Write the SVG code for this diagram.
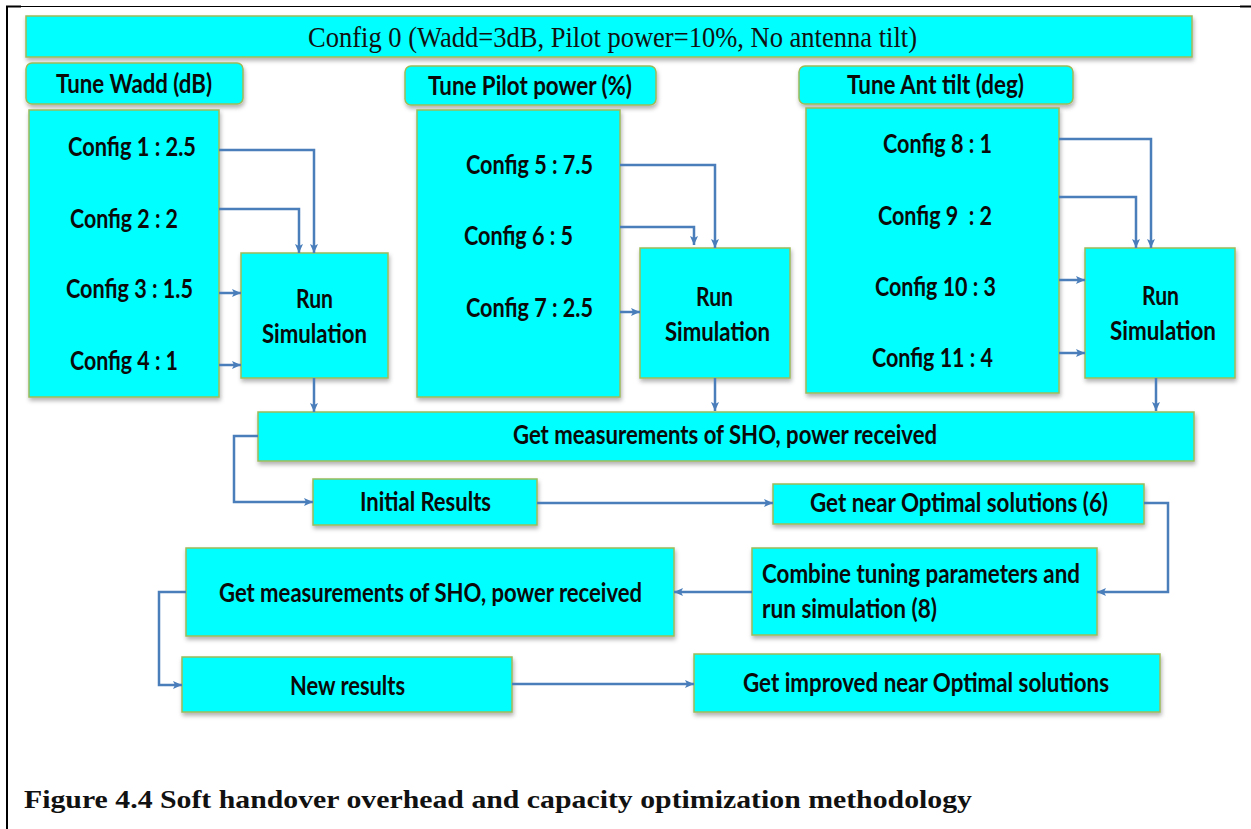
<svg xmlns="http://www.w3.org/2000/svg" width="1251" height="829" viewBox="0 0 1251 829">
  <defs>
    <filter id="shadow" x="-5%" y="-10%" width="110%" height="130%">
      <feDropShadow dx="1" dy="3" stdDeviation="2" flood-color="#000" flood-opacity="0.3"/>
    </filter>
    <marker id="arrow" markerUnits="userSpaceOnUse" markerWidth="10" markerHeight="10" refX="9" refY="5" orient="auto">
      <path d="M0,1 L9,5 L0,9 L2,5 Z" fill="#4a7ebb"/>
    </marker>
  </defs>
  <style>
    .box { fill: #00ffff; stroke: #9bbb59; stroke-width: 1.5; filter: url(#shadow); }
    .lbl { font-family: Lato, "Open Sans", "Liberation Sans", sans-serif; font-weight: bold; font-size: 27px; fill: #0a0a0a; white-space: pre; }
    .title { font-family: "Liberation Serif", "DejaVu Serif", serif; font-size: 30px; fill: #111; }
    .caption { font-family: "Liberation Serif", "DejaVu Serif", serif; font-weight: bold; font-size: 25px; fill: #111; }
    .conn { fill: none; stroke: #4a7ebb; stroke-width: 2.5; }
    .arr { marker-end: url(#arrow); }
  </style>
  <rect width="1251" height="829" fill="#fff"/>

  <!-- page frame -->
  <g id="frame" stroke="#000" fill="none">
    <line x1="7" y1="6" x2="7" y2="829" stroke-width="2"/>
    <line x1="6" y1="6.5" x2="21" y2="6.5" stroke-width="2"/>
    <line x1="21" y1="6.5" x2="1240" y2="6.5" stroke-width="1"/>
    <line x1="1240" y1="6.5" x2="1251" y2="6.5" stroke-width="2"/>
  </g>

  <g id="config0">
    <rect class="box" x="26" y="16" width="1166" height="41"/>
    <text class="title" x="308" y="47" textLength="609" lengthAdjust="spacingAndGlyphs">Config 0 (Wadd=3dB, Pilot power=10%, No antenna tilt)</text>
  </g>

  <!-- Wadd branch -->
  <g id="tune-wadd">
    <rect class="box" x="26" y="63" width="217" height="41" rx="6"/>
    <text class="lbl" x="56" y="93" textLength="156" lengthAdjust="spacingAndGlyphs">Tune Wadd (dB)</text>
  </g>
  <g id="wadd-configs">
    <rect class="box" x="29" y="110" width="190" height="287"/>
    <text class="lbl" x="68" y="156" textLength="128" lengthAdjust="spacingAndGlyphs">Config 1 : 2.5</text>
    <text class="lbl" x="70" y="228" textLength="108" lengthAdjust="spacingAndGlyphs">Config 2 : 2</text>
    <text class="lbl" x="66" y="298" textLength="127" lengthAdjust="spacingAndGlyphs">Config 3 : 1.5</text>
    <text class="lbl" x="70" y="370" textLength="108" lengthAdjust="spacingAndGlyphs">Config 4 : 1</text>
  </g>
  <g id="run-sim-1">
    <rect class="box" x="241" y="253" width="147" height="125"/>
    <text class="lbl" x="296" y="308" textLength="37" lengthAdjust="spacingAndGlyphs">Run</text>
    <text class="lbl" x="262" y="343" textLength="105" lengthAdjust="spacingAndGlyphs">Simulation</text>
  </g>

  <!-- Pilot power branch -->
  <g id="tune-pilot">
    <rect class="box" x="405" y="66" width="251" height="39" rx="6"/>
    <text class="lbl" x="428" y="95" textLength="204" lengthAdjust="spacingAndGlyphs">Tune Pilot power (%)</text>
  </g>
  <g id="pilot-configs">
    <rect class="box" x="417" y="110" width="203" height="287"/>
    <text class="lbl" x="466" y="174" textLength="127" lengthAdjust="spacingAndGlyphs">Config 5 : 7.5</text>
    <text class="lbl" x="464" y="245" textLength="109" lengthAdjust="spacingAndGlyphs">Config 6 : 5</text>
    <text class="lbl" x="466" y="317" textLength="127" lengthAdjust="spacingAndGlyphs">Config 7 : 2.5</text>
  </g>
  <g id="run-sim-2">
    <rect class="box" x="640" y="248" width="150" height="130"/>
    <text class="lbl" x="696" y="306" textLength="37" lengthAdjust="spacingAndGlyphs">Run</text>
    <text class="lbl" x="665" y="341" textLength="105" lengthAdjust="spacingAndGlyphs">Simulation</text>
  </g>

  <!-- Antenna tilt branch -->
  <g id="tune-tilt">
    <rect class="box" x="799" y="66" width="274" height="38" rx="6"/>
    <text class="lbl" x="847" y="94" textLength="177" lengthAdjust="spacingAndGlyphs">Tune Ant tilt (deg)</text>
  </g>
  <g id="tilt-configs">
    <rect class="box" x="806" y="108" width="253" height="285"/>
    <text class="lbl" x="883" y="153" textLength="109" lengthAdjust="spacingAndGlyphs">Config 8 : 1</text>
    <text class="lbl" x="878" y="225" textLength="114" lengthAdjust="spacingAndGlyphs">Config 9  : 2</text>
    <text class="lbl" x="875" y="296" textLength="121" lengthAdjust="spacingAndGlyphs">Config 10 : 3</text>
    <text class="lbl" x="872" y="367" textLength="121" lengthAdjust="spacingAndGlyphs">Config 11 : 4</text>
  </g>
  <g id="run-sim-3">
    <rect class="box" x="1085" y="248" width="150" height="130"/>
    <text class="lbl" x="1142" y="305" textLength="37" lengthAdjust="spacingAndGlyphs">Run</text>
    <text class="lbl" x="1110" y="340" textLength="106" lengthAdjust="spacingAndGlyphs">Simulation</text>
  </g>

  <!-- result stages -->
  <g id="measure-1">
    <rect class="box" x="258" y="412" width="936" height="49"/>
    <text class="lbl" x="513" y="444" textLength="424" lengthAdjust="spacingAndGlyphs">Get measurements of SHO, power received</text>
  </g>
  <g id="initial-results">
    <rect class="box" x="313" y="479" width="224" height="46"/>
    <text class="lbl" x="360" y="511" textLength="131" lengthAdjust="spacingAndGlyphs">Initial Results</text>
  </g>
  <g id="near-optimal">
    <rect class="box" x="773" y="484" width="371" height="40"/>
    <text class="lbl" x="810" y="512" textLength="298" lengthAdjust="spacingAndGlyphs">Get near Optimal solutions (6)</text>
  </g>
  <g id="combine">
    <rect class="box" x="752" y="548" width="345" height="87"/>
    <text class="lbl" x="762" y="583" textLength="318" lengthAdjust="spacingAndGlyphs">Combine tuning parameters and</text>
    <text class="lbl" x="762" y="618" textLength="175" lengthAdjust="spacingAndGlyphs">run simulation (8)</text>
  </g>
  <g id="measure-2">
    <rect class="box" x="186" y="548" width="488" height="88"/>
    <text class="lbl" x="219" y="602" textLength="423" lengthAdjust="spacingAndGlyphs">Get measurements of SHO, power received</text>
  </g>
  <g id="new-results">
    <rect class="box" x="182" y="657" width="330" height="55"/>
    <text class="lbl" x="290" y="695" textLength="115" lengthAdjust="spacingAndGlyphs">New results</text>
  </g>
  <g id="improved">
    <rect class="box" x="694" y="654" width="466" height="58"/>
    <text class="lbl" x="743" y="692" textLength="366" lengthAdjust="spacingAndGlyphs">Get improved near Optimal solutions</text>
  </g>

  <g id="connectors" class="conn">
    <path class="arr" d="M219 150 H314 V253"/>
    <path class="arr" d="M219 209 H299 V253"/>
    <path class="arr" d="M219 293 H241"/>
    <path class="arr" d="M219 365 H241"/>
    <path class="arr" d="M314 378 V412"/>

    <path class="arr" d="M620 165 H715 V248"/>
    <path class="arr" d="M620 227 H694 V245"/>
    <path class="arr" d="M620 312 H640"/>
    <path class="arr" d="M715 378 V411"/>

    <path class="arr" d="M1059 139 H1151 V248"/>
    <path class="arr" d="M1059 197 H1136 V248"/>
    <path class="arr" d="M1059 280 H1085"/>
    <path class="arr" d="M1059 353 H1085"/>
    <path class="arr" d="M1156 378 V411"/>

    <path class="arr" d="M258 436 H234 V502 H313"/>
    <path class="arr" d="M537 503 H773"/>
    <path class="arr" d="M1144 503 H1168 V592 H1097"/>
    <path class="arr" d="M752 592 H674"/>
    <path class="arr" d="M186 592 H159 V685 H182"/>
    <path class="arr" d="M512 684 H694"/>
  </g>

  <text class="caption" x="24" y="808" textLength="948" lengthAdjust="spacingAndGlyphs">Figure 4.4 Soft handover overhead and capacity optimization methodology</text>
</svg>
